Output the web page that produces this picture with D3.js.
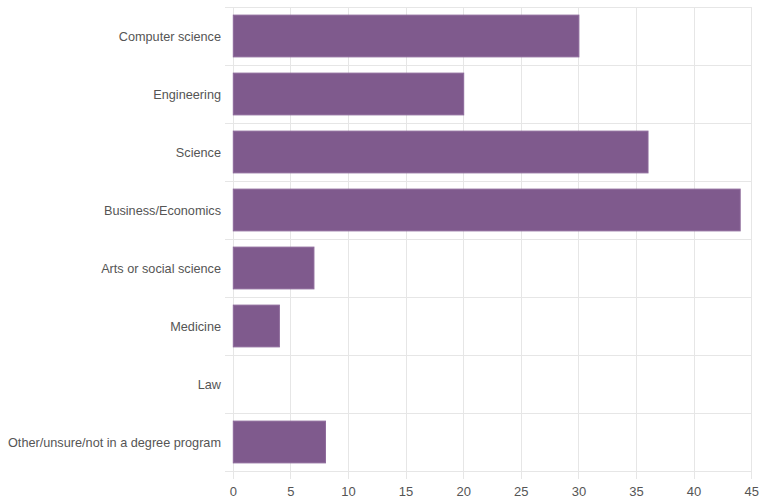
<!DOCTYPE html>
<html><head><meta charset="utf-8">
<script src="https://cdn.jsdelivr.net/npm/d3@7"></script>
<style>
html,body{margin:0;padding:0;background:#fff;}
svg{display:block;font-family:"Liberation Sans",Arial,Helvetica,sans-serif;}
</style></head>
<body><svg id="chart" width="759" height="497"></svg>
<script>
const categories = ["Computer science","Engineering","Science","Business/Economics","Arts or social science","Medicine","Law","Other/unsure/not in a degree program"];
const values = [30,20,36,44,7,4,0,8];
const xTicks = [0,5,10,15,20,25,30,35,40,45];

(function(){
const svg = d3.select("#chart");
const mLeft = 233.3, mRight = 751.7, mTop = 7, mBottom = 471;
const x = d3.scaleLinear().domain([0,45]).range([mLeft,mRight]);
const y = d3.scaleBand().domain(categories).range([mTop,mBottom]).paddingInner(0).paddingOuter(0);
const grid = "#e6e6e6";

svg.append("g").selectAll("line").data(xTicks).join("line")
  .attr("x1",d=>x(d)).attr("x2",d=>x(d)).attr("y1",mTop).attr("y2",mBottom+8)
  .attr("stroke",grid).attr("stroke-width",1).attr("shape-rendering","crispEdges");
const bounds = categories.map(c=>y(c)).concat([mBottom]);
svg.append("g").selectAll("line").data(bounds).join("line")
  .attr("x1",mLeft-8).attr("x2",mRight).attr("y1",d=>d).attr("y2",d=>d)
  .attr("stroke",grid).attr("stroke-width",1).attr("shape-rendering","crispEdges");

const bw = y.bandwidth()*0.72;
svg.append("g").selectAll("rect").data(categories).join("rect")
  .attr("x",x(0))
  .attr("y",d=>y(d)+(y.bandwidth()-bw)/2)
  .attr("width",(d,i)=>x(values[i])-x(0))
  .attr("height",bw)
  .attr("fill","#7f5a8d")
  .attr("stroke",(d,i)=>values[i]>0?"#8d6a9b":"none")
  .attr("stroke-width",1);

svg.append("g").selectAll("text").data(categories).join("text")
  .attr("x",221).attr("y",d=>y(d)+y.bandwidth()/2+0.5)
  .attr("text-anchor","end").attr("dominant-baseline","central")
  .attr("font-size",12.7).attr("fill","#555")
  .text(d=>d);

svg.append("g").selectAll("text").data(xTicks).join("text")
  .attr("x",d=>x(d)).attr("y",491)
  .attr("text-anchor","middle").attr("dominant-baseline","central")
  .attr("font-size",13).attr("fill","#555")
  .text(d=>d);
})();
</script></body></html>
